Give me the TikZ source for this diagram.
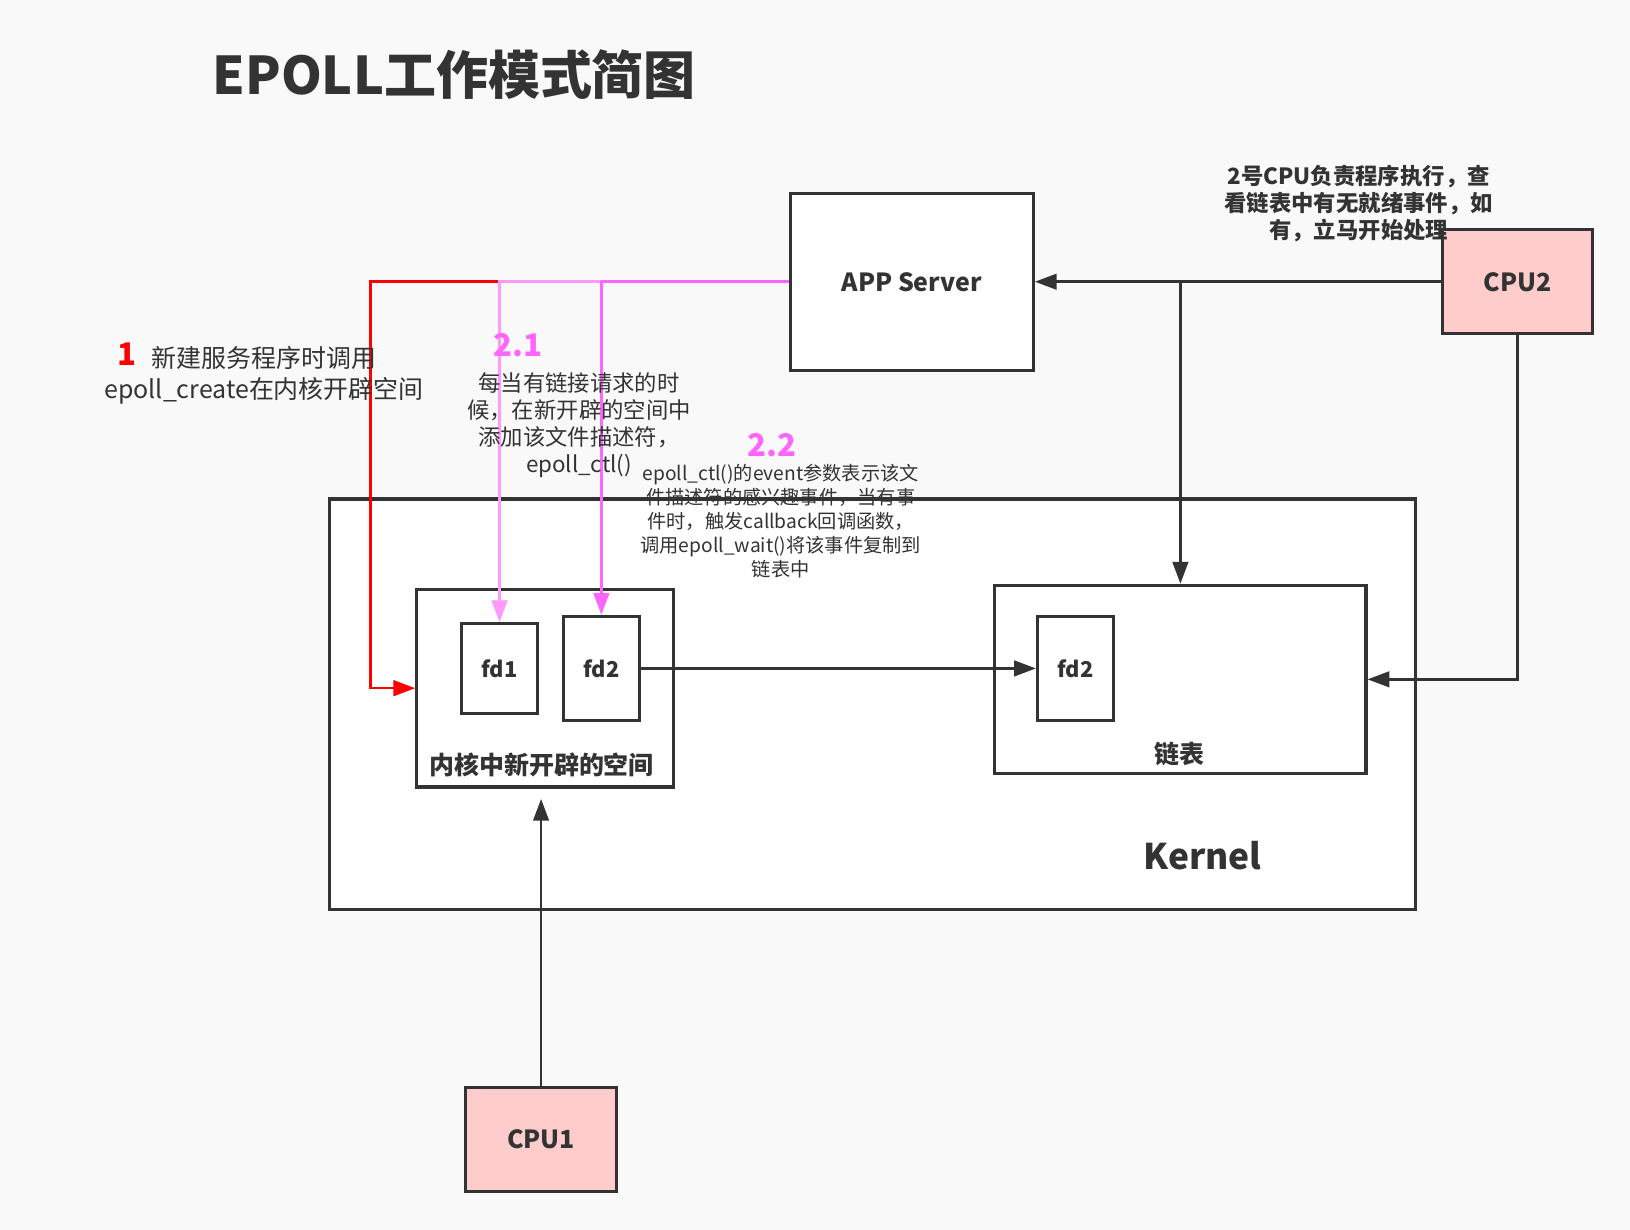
\documentclass[tikz,border=0pt]{standalone}
\usepackage{fontspec}
\setmainfont{Noto Sans CJK SC}
\usetikzlibrary{arrows.meta}
\definecolor{dk}{HTML}{333333}
\definecolor{pkl}{HTML}{FF99FF}
\definecolor{pkd}{HTML}{FF66FF}
\definecolor{rd}{HTML}{FF0000}
\definecolor{cpufill}{HTML}{FFCCCC}
\definecolor{bg}{HTML}{F9F9F9}
\newcommand{\fs}[2]{\fontsize{#1}{#2}\selectfont}
\begin{document}
\begin{tikzpicture}[x=1pt,y=-1pt,
  box/.style={draw=dk, line width=3pt, fill=white, inner sep=0pt, text=dk, font=\bfseries\fs{24}{28}},
  cpubox/.style={box, fill=cpufill},
  fdbox/.style={box, minimum width=73pt, font=\bfseries\fs{21}{25}},
  txt/.style={text=dk, inner sep=0pt, align=center},
  arr/.style={draw=dk, line width=2.5pt, -{Triangle[length=21pt,width=15pt]}},
  parr/.style={line width=2.5pt, -{Triangle[length=21pt,width=15pt]}},
  num/.style={inner sep=0pt, font=\bfseries\fs{30}{34}}
]
\fill[bg] (0,0) rectangle (1568,1183);
\useasboundingbox (0,0) rectangle (1568,1183);

% title
\node[txt, font=\bfseries\fs{50}{60}] (title) at (437,72) {EPOLL工作模式简图};

% kernel
\node[box, minimum width=1045pt, minimum height=395pt] (kernel) at (839.5,677.5) {};
\node[txt, font=\bfseries\fs{34}{40}] (kernellbl) at (1157,823) {Kernel};

% boxes
\node[box, minimum width=234pt, minimum height=170pt] (app) at (877,271) {APP Server};
\node[cpubox, minimum width=144pt, minimum height=100pt] (cpu2) at (1460,271) {CPU2};
\node[cpubox, minimum width=145pt, minimum height=100pt] (cpu1) at (520.5,1096) {CPU1};

\node[box, minimum width=247pt, minimum height=190pt] (space) at (524.5,662) {};
\node[txt, font=\bfseries\fs{24}{28}] (spacelbl) at (521,736) {内核中新开辟的空间};
\node[fdbox, minimum height=86pt] (fd1) at (480.5,643) {fd1};
\node[fdbox, minimum height=100pt] (fd2a) at (578.5,643) {fd2};

\node[box, minimum width=357pt, minimum height=181pt] (list) at (1135.5,653.5) {};
\node[txt, font=\bfseries\fs{24}{28}] (listlbl) at (1135,725) {链表};
\node[fdbox, minimum height=100pt] (fd2b) at (1034.5,643) {fd2};

% connectors
\draw[parr, draw=rd] (app.west) -- ++(-402,0) |- (space.west);
\draw[parr, draw=pkl] (app.west) -| (fd1.north);
\draw[parr, draw=pkd] (app.west) -| (fd2a.north);

\draw[arr] (cpu2.west) -- (app.east);
\coordinate (j) at (list.north |- app.east);
\draw[arr] (j) -- (list.north);
\draw[arr] (cpu2.south) |- (list.east);
\draw[arr] (fd2a.east) -- (fd2b.west);
\coordinate (sp) at ([yshift=-10pt]space.south);
\draw[arr] (cpu1.north) -- (cpu1.north |- sp);

% annotations
\node[txt, font=\bfseries\fs{21.5}{26}] (cpu2note) at (1307,196) {2号CPU负责程序执行，查\\看链表中有无就绪事件，如\\有，立马开始处理};
\node[num, text=rd] (n1) at (122,341) {1};
\node[txt, font=\fs{24}{30}] (note1) at (254,361) {新建服务程序时调用\\epoll\_create在内核开辟空间};
\node[num, text=pkd] (n21) at (498,332) {2.1};
\node[txt, font=\fs{21.5}{26}] (note21) at (557,409) {每当有链接请求的时\\候，在新开辟的空间中\\添加该文件描述符，\\epoll\_ctl()};
\node[num, text=pkd] (n22) at (743,428) {2.2};
\node[txt, font=\fs{18.5}{23}] (note22) at (751,501) {epoll\_ctl()的event参数表示该文\\件描述符的感兴趣事件，当有事\\件时，触发callback回调函数，\\调用epoll\_wait()将该事件复制到\\链表中};
\end{tikzpicture}
\end{document}
